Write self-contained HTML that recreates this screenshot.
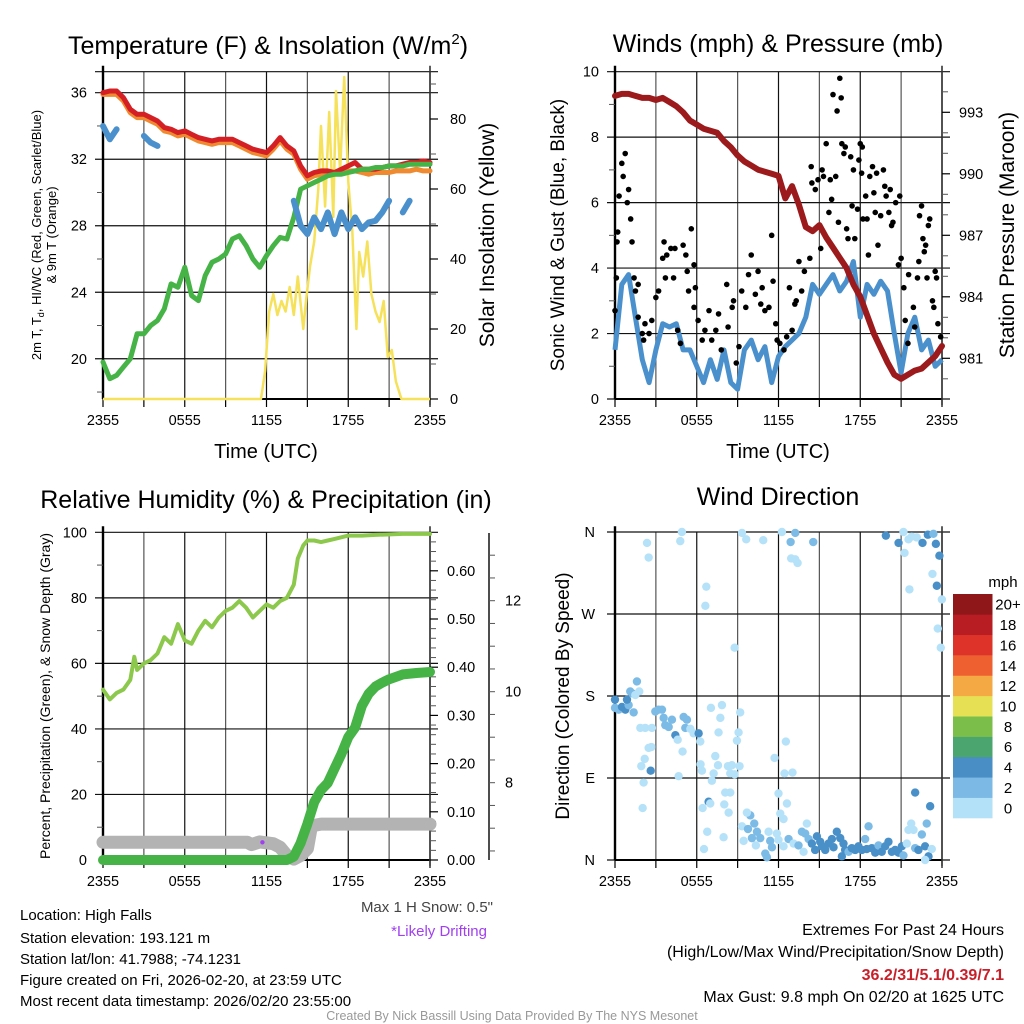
<!DOCTYPE html>
<html><head><meta charset="utf-8"><style>
html,body{margin:0;padding:0;background:#fff;}
svg{display:block;font-family:"Liberation Sans",Arial,sans-serif;}
</style></head><body>
<svg id="chart" xmlns="http://www.w3.org/2000/svg" width="1024" height="1024" viewBox="0 0 1024 1024">
<rect width="1024" height="1024" fill="#fff"/>
<g id="layer"></g>
<text x="268" y="54" font-size="25" text-anchor="middle">Temperature (F) &amp; Insolation (W/m<tspan font-size="15" dy="-10">2</tspan><tspan dy="10">)</tspan></text>
<text x="778" y="52" font-size="25" text-anchor="middle">Winds (mph) &amp; Pressure (mb)</text>
<text x="266" y="508" font-size="25" text-anchor="middle">Relative Humidity (%) &amp; Precipitation (in)</text>
<text x="778" y="505" font-size="25" text-anchor="middle">Wind Direction</text>
<text x="266" y="458" font-size="20" text-anchor="middle">Time (UTC)</text>
<text x="778" y="458" font-size="20" text-anchor="middle">Time (UTC)</text>
<text transform="translate(41,235) rotate(-90)" font-size="13" text-anchor="middle">2m T, T<tspan font-size="9" dy="3">d</tspan><tspan dy="-3">, HI/WC (Red, Green, Scarlet/Blue)</tspan></text>
<text transform="translate(56,235) rotate(-90)" font-size="13" text-anchor="middle">&amp; 9m T (Orange)</text>
<text transform="translate(494,235) rotate(-90)" font-size="21" text-anchor="middle">Solar Insolation (Yellow)</text>
<text transform="translate(564,235) rotate(-90)" font-size="19" text-anchor="middle">Sonic Wind &amp; Gust (Blue, Black)</text>
<text transform="translate(1014,235) rotate(-90)" font-size="21" text-anchor="middle">Station Pressure (Maroon)</text>
<text transform="translate(50,696) rotate(-90)" font-size="14" text-anchor="middle">Percent, Precipitation (Green), &amp; Snow Depth (Gray)</text>
<text transform="translate(569,696) rotate(-90)" font-size="19" text-anchor="middle">Direction (Colored By Speed)</text>
<text x="1003" y="587" font-size="15" text-anchor="middle">mph</text>
<text x="493" y="912" font-size="15" fill="#444" text-anchor="end">Max 1 H Snow: 0.5"</text>
<text x="487" y="936" font-size="15" fill="#a040f0" text-anchor="end">*Likely Drifting</text>
<g font-size="15">
<text x="20" y="920">Location: High Falls</text>
<text x="20" y="943">Station elevation: 193.121 m</text>
<text x="20" y="964">Station lat/lon: 41.7988; -74.1231</text>
<text x="20" y="985">Figure created on Fri, 2026-02-20, at 23:59 UTC</text>
<text x="20" y="1006">Most recent data timestamp: 2026/02/20 23:55:00</text>
</g>
<g font-size="16" text-anchor="end">
<text x="1004" y="935">Extremes For Past 24 Hours</text>
<text x="1004" y="957">(High/Low/Max Wind/Precipitation/Snow Depth)</text>
<text x="1004" y="980" fill="#c8202a" font-weight="bold">36.2/31/5.1/0.39/7.1</text>
<text x="1004" y="1002">Max Gust: 9.8 mph On 02/20 at 1625 UTC</text>
</g>
<text x="512" y="1020" font-size="12.5" fill="#999" text-anchor="middle">Created By Nick Bassill Using Data Provided By The NYS Mesonet</text>
</svg>
<script>
// ---- data (half-hour steps from 2355 UTC, 0..24 h) ----
const xTickLabels = ["2355","0555","1155","1755","2355"];
const tempRed = [36.0,36.1,36.1,35.7,35.0,34.7,34.7,34.5,34.3,33.9,33.8,33.6,33.7,33.5,33.3,33.2,33.1,33.2,33.2,33.2,33.0,32.8,32.6,32.5,32.4,32.8,33.3,32.8,32.5,31.6,31.0,31.2,31.3,31.3,31.2,31.4,31.6,31.8,31.4,31.4,31.4,31.5,31.6,31.6,31.7,31.8,31.8,31.9,31.8];
const temp9m = [35.9,35.9,35.9,35.5,34.8,34.5,34.5,34.3,34.1,33.7,33.6,33.4,33.5,33.3,33.1,33.0,32.9,33.0,33.0,33.0,32.8,32.6,32.4,32.3,32.2,32.6,33.1,32.6,32.3,31.4,30.8,31.0,31.1,31.1,31.1,31.2,31.3,31.3,31.2,31.1,31.2,31.2,31.2,31.3,31.3,31.3,31.4,31.3,31.3];
const dewGreen = [19.8,18.8,19.0,19.5,20.0,21.5,21.5,22.0,22.3,23.0,24.5,24.3,25.5,23.8,23.5,25.0,25.8,26.0,26.3,27.2,27.4,26.8,26.0,25.5,26.2,26.8,27.3,27.2,28.5,30.2,30.4,30.6,30.8,31.0,31.1,31.1,31.2,31.3,31.4,31.4,31.5,31.5,31.6,31.6,31.6,31.7,31.7,31.7,31.7];
const windChill = [34.0,33.2,33.8,null,null,null,33.4,33.0,32.8,null,32.8,null,null,null,null,null,null,null,null,null,null,null,null,30.6,null,null,null,null,29.5,28.0,27.5,28.5,27.8,28.8,27.5,28.8,27.8,28.5,27.8,28.2,28.3,28.8,29.5,null,28.8,29.5,null,null,null];
const solarHours = [0,11.6,11.9,12.2,12.5,12.8,13.1,13.4,13.7,14.0,14.3,14.7,14.9,15.2,15.5,15.8,16.0,16.3,16.6,16.9,17.1,17.4,17.7,18.0,18.3,18.6,18.8,19.1,19.4,19.7,20.0,20.3,20.6,20.9,21.2,21.5,21.9,24];
const solarVals  = [0,0,8,25,30,24,28,25,32,24,35,20,28,38,45,60,78,55,82,52,88,65,92,62,48,20,42,35,45,30,25,22,28,12,14,5,0,0];
const pressure = [993.8,993.9,993.9,993.8,993.7,993.7,993.6,993.7,993.5,993.3,993.0,992.6,992.4,992.2,992.1,992.0,991.6,991.3,990.9,990.6,990.4,990.2,990.1,990.0,989.9,988.8,989.4,988.5,987.4,987.2,987.5,986.9,986.4,985.9,985.4,984.6,984.0,983.1,982.2,981.5,980.8,980.2,980.0,980.2,980.4,980.5,980.8,981.1,981.6];
const sonicWind = [1.5,3.5,3.8,2.5,1.2,0.5,1.5,2.3,2.2,2.3,1.5,1.5,1.0,0.5,1.2,0.6,1.5,0.5,0.3,1.5,1.8,1.2,1.6,0.5,1.3,1.6,1.8,2.0,2.5,3.5,3.2,3.5,3.8,3.3,3.6,4.2,2.5,3.5,3.2,3.6,3.3,2.0,0.8,2.0,2.5,1.5,1.8,1.0,1.2];
const gustHours = [0,0.1,0.15,0.2,0.3,0.5,0.6,0.75,0.9,1.0,1.15,1.25,1.4,1.5,1.7,1.7,2.0,2.1,2.2,2.5,2.7,3.0,3.2,3.5,3.6,3.7,3.8,4.1,4.3,4.4,4.6,4.8,5.0,5.2,5.3,5.4,5.6,5.8,5.8,5.9,6.1,6.4,6.6,6.9,7.1,7.4,7.6,7.8,8.2,8.3,8.6,8.7,8.9,9.1,9.3,9.6,9.8,10.0,10.3,10.5,10.7,10.8,11.0,11.3,11.5,11.6,11.8,11.9,12.1,12.4,12.6,12.8,13.0,13.2,13.3,13.5,13.7,13.9,14.3,14.4,14.45,14.7,14.9,15.1,15.2,15.3,15.5,15.7,15.8,15.9,16.0,16.2,16.3,16.4,16.5,16.6,16.65,16.8,16.9,17.0,17.1,17.3,17.4,17.5,17.6,17.8,17.9,18.0,18.1,18.15,18.2,18.4,18.5,18.6,18.7,18.9,19.0,19.1,19.2,19.3,19.5,19.7,19.8,19.9,20.1,20.2,20.3,20.4,20.6,20.8,20.9,21.0,21.2,21.3,21.5,21.55,21.9,22.0,22.2,22.3,22.35,22.5,22.6,22.7,22.8,22.9,23.0,23.1,23.3,23.4,23.5,23.6,23.7,23.9];
const gustVals  = [2.7,3.7,4.8,5.1,6.2,7.2,6.8,7.5,6.0,6.4,5.5,4.8,3.7,3.3,3.5,2.5,2.0,1.8,2.3,2.0,2.4,3.1,3.3,4.3,4.8,3.7,4.4,4.6,3.7,4.6,2.1,1.7,4.7,4.4,3.9,3.3,5.2,4.1,2.8,3.4,2.4,1.8,2.1,2.7,1.8,2.1,2.6,1.5,3.5,2.2,2.8,3.0,1.1,1.6,3.3,2.8,3.8,4.4,3.2,3.9,2.9,3.4,2.7,2.8,5.0,3.6,2.3,1.8,1.7,1.5,1.9,3.4,2.1,2.9,3.0,4.2,3.3,3.9,4.3,7.1,6.6,6.4,6.7,4.6,7.0,6.8,7.8,5.7,6.7,6.1,9.3,6.8,8.8,5.4,9.8,9.2,7.8,7.5,7.7,5.2,4.9,7.4,5.9,7.0,4.9,5.8,7.3,7.8,6.9,7.7,5.5,6.2,5.5,4.4,6.8,7.1,6.3,5.7,6.9,4.7,5.6,7.0,6.5,6.2,5.7,6.4,5.3,5.4,6.0,4.1,6.2,4.3,3.4,2.4,1.7,3.8,2.8,2.2,3.7,4.2,5.6,5.9,4.9,4.5,4.7,3.7,5.3,5.5,3.0,2.8,3.9,3.7,2.3,1.9];
const rhHours = [0,0.5,1,1.5,2,2.3,2.5,3,3.5,4,4.5,5,5.5,6,6.5,7,7.5,8,8.5,9,9.5,10,10.5,11,11.5,12,12.5,13,13.5,14,14.3,14.7,15,15.5,16,16.5,17,18,19,20,22,24];
const rhVals  = [52,49,51,52,55,62,58,60,61,63,68,66,72,67,66,70,73,71,74,76,77,79,77,74,76,78,77,79,80,84,92,96,97.5,97.5,97,97.5,98,99,99,99.2,99.5,99.5];
const precipHours = [0,13.5,14,14.5,15,15.5,16,16.5,17,17.5,18,18.5,19,19.5,20,20.5,21,22,23,24];
const precipVals  = [0,0,0.007,0.035,0.075,0.12,0.145,0.16,0.19,0.22,0.255,0.275,0.32,0.345,0.36,0.368,0.375,0.385,0.388,0.39];
const snowHours = [0,10.6,10.9,11.5,12.5,13,13.5,14,14.5,15,15.3,16,24];
const snowVals  = [6.69,6.69,6.64,6.70,6.66,6.58,6.40,6.32,6.40,6.55,7.05,7.09,7.09];
const dirHours = [0.0,0.0,0.27,0.51,0.76,1.0,0.88,1.25,1.12,1.49,1.61,1.78,1.37,1.86,2.22,2.71,2.47,2.67,2.18,1.93,2.10,2.03,2.62,2.96,3.20,3.45,3.57,3.69,3.94,4.18,4.43,4.60,4.96,5.04,5.28,5.16,5.53,5.77,6.14,6.26,6.28,6.38,4.67,2.35,2.47,4.79,4.91,6.70,6.63,7.04,7.85,7.73,7.60,7.36,7.24,7.11,7.56,8.29,8.58,8.46,8.78,9.14,8.09,8.46,6.87,6.99,6.43,8.02,8.34,6.77,6.53,7.97,8.78,9.07,9.19,8.95,9.32,9.63,10.88,12.25,12.89,13.23,12.93,13.23,13.40,14.55,9.93,9.68,9.32,9.76,10.22,10.42,10.05,10.66,9.44,10.34,11.03,11.15,11.27,11.39,11.52,11.88,12.0,11.71,12.0,12.54,12.44,13.03,12.62,12.13,12.37,12.74,12.37,13.11,13.47,13.72,14.08,13.96,14.21,13.84,14.45,14.69,14.82,15.06,15.18,15.43,15.67,15.92,16.04,16.28,16.53,16.77,16.89,16.65,17.14,17.38,17.63,17.87,18.12,18.36,18.61,18.48,18.85,19.10,19.34,19.58,19.83,20.07,20.32,20.56,20.81,21.05,21.17,21.42,21.54,21.74,21.91,22.03,22.27,22.52,22.76,22.88,23.01,23.13,23.25,22.76,22.03,19.88,20.81,21.17,21.25,21.54,21.78,22.15,21.61,22.57,22.96,23.37,23.55,23.81,23.30,23.62,23.99,23.69,23.91];
const dirDeg = [176,167,165,168,165,170,176,183,185,181,196,185,162,145,145,145,123,124,111,103,85,57,98,163,165,165,156,148,146,154,137,132,119,157,154,145,144,139,139,130,105,98,92,348,332,350,360,300,279,167,170,156,140,114,95,87,104,103,104,95,94,103,74,74,64,62,57,61,52,31,12,25,233,140,162,131,359,352,351,360,349,359,331,330,326,349,49,52,37,34,40,31,24,24,21,16,7,3,31,21,14,29,22,112,73,130,95,96,62,51,45,23,15,18,16,31,40,29,23,9,18,11,26,20,15,11,18,23,14,31,24,18,11,4,9,13,11,15,11,23,37,12,13,8,16,9,15,20,9,11,8,15,5,18,33,40,33,13,11,28,15,40,4,59,12,0,74,356,348,360,337,352,355,354,297,348,357,358,347,334,314,301,286,254,233];
const dirSpeedClass = [2,1,1,2,2,1,2,1,1,0,1,0,1,0,0,0,0,0,0,0,0,0,2,1,1,1,1,1,1,1,2,0,0,1,1,1,0,0,2,0,0,0,0,0,0,0,0,0,0,0,0,0,0,0,0,0,0,0,0,0,0,0,0,0,2,0,0,0,0,0,0,0,0,0,0,0,0,0,0,0,1,1,0,0,0,1,1,0,0,1,1,1,1,1,0,0,1,1,0,1,1,0,0,0,0,0,0,0,0,0,0,1,0,0,1,1,0,1,1,0,2,2,2,2,2,2,2,2,2,2,2,2,2,2,1,2,2,2,2,1,1,2,2,2,1,2,2,2,2,2,2,2,1,0,0,0,0,1,2,1,2,1,2,2,0,0,2,2,2,0,0,0,0,0,0,2,2,1,2,2,0,2,0,0,0];
const colorbarLabels = ["0","2","4","6","8","10","12","14","16","18","20+"];
const colorbarColors = ["#b3e1f7","#7cb9e4","#4a8ec6","#4aa56e","#7bbf4a","#e6e055","#f5a945","#ee6030","#dd3328","#b81d24","#8f171a"];

// ---- helpers ----
const NS = "http://www.w3.org/2000/svg";
const layer = document.getElementById("layer");
function el(tag, attrs, parent){ const e=document.createElementNS(NS,tag); for(const k in attrs) e.setAttribute(k,attrs[k]); (parent||layer).appendChild(e); return e; }
function txt(x,y,s,size,anchor,parent){ const t=el("text",{x:x,y:y,"font-size":size,"text-anchor":anchor},parent); t.textContent=s; return t; }
function makeX(x0,x1){ return h => x0+(x1-x0)*h/24; }
function pathFrom(hours, vals, xf, yf){
  let d="", pen=false;
  for(let i=0;i<vals.length;i++){ const v=vals[i]; if(v===null){pen=false;continue;} d+=(pen?"L":"M")+xf(hours[i]).toFixed(1)+","+yf(v).toFixed(1); pen=true; }
  return d;
}
function halfHours(n){ const a=[]; for(let i=0;i<n;i++) a.push(i*0.5); return a; }

function frame(g, x0,x1,yTop,yBot, hGrid, xf){
  for(let h=0;h<=24;h+=3){ const x=xf(h); el("line",{x1:x,y1:yTop,x2:x,y2:yBot,stroke:(h%6===0)?"#111":"#555","stroke-width":1.2},g);
    el("line",{x1:x,y1:yBot,x2:x,y2:yBot+8,stroke:"#000","stroke-width":1.2},g); }
  hGrid.forEach(y=> el("line",{x1:x0-8,y1:y,x2:x1+8,y2:y,stroke:"#111","stroke-width":1.2},g));
  el("line",{x1:x0,y1:yTop-6,x2:x0,y2:yBot,stroke:"#000","stroke-width":2.4},g);
  el("line",{x1:x0,y1:yBot,x2:x1,y2:yBot,stroke:"#000","stroke-width":2},g);
  el("line",{x1:x1,y1:yTop-6,x2:x1,y2:yBot+6,stroke:"#333","stroke-width":1.6},g);
  xTickLabels.forEach((s,i)=>{ txt(xf(i*6), yBot+26, s, 14.5, "middle", g); });
}
function minorTicks(g, x, ys, dir){ ys.forEach(y=> el("line",{x1:x,y1:y,x2:x+dir*6,y2:y,stroke:"#555","stroke-width":1},g)); }

// ================= PANEL 1 =================
(function(){
  const g=el("g",{});  
  const x0=103,x1=430,yTop=71.7,yBot=399;
  const xf=makeX(x0,x1);
  const yT=v=>92.7+(36-v)*16.63, yS=v=>399-v*3.5;
  const grid=[yTop]; [20,24,28,32,36].forEach(v=>grid.push(yT(v)));
  frame(g,x0,x1,yTop,yBot,grid,xf);
  [20,24,28,32,36].forEach(v=> txt(x0-16,yT(v)+5,String(v),14.5,"end",g));
  minorTicks(g,x0,[18,22,26,30,34].map(yT),-1);
  [0,20,40,60,80].forEach(v=>{ el("line",{x1:x1,y1:yS(v),x2:x1+8,y2:yS(v),stroke:"#000","stroke-width":1.2},g); txt(x1+20,yS(v)+5,String(v),14.5,"start",g); });
  minorTicks(g,x1,[10,30,50,70,90].map(yS),1);
  const hh=halfHours(49);
  const s=el("path",{d:pathFrom(solarHours,solarVals,xf,yS),fill:"none",stroke:"#f5e15a","stroke-width":2.5,"stroke-linejoin":"round"},g);
   
  const o=el("path",{d:pathFrom(hh,temp9m,xf,yT),fill:"none",stroke:"#f08a30","stroke-width":5,"stroke-linejoin":"round","stroke-linecap":"round"},g);
   
  const r=el("path",{d:pathFrom(hh,tempRed,xf,yT),fill:"none",stroke:"#d42024","stroke-width":5,"stroke-linejoin":"round","stroke-linecap":"round"},g);
   
  const gr=el("path",{d:pathFrom(hh,dewGreen,xf,yT),fill:"none",stroke:"#46b346","stroke-width":5,"stroke-linejoin":"round","stroke-linecap":"round"},g);
   
  const b=el("path",{d:pathFrom(hh,windChill,xf,yT),fill:"none",stroke:"#4a90cc","stroke-width":6,"stroke-linejoin":"round","stroke-linecap":"round"},g);
   
})();

// ================= PANEL 2 =================
(function(){
  const g=el("g",{});  
  const x0=615,x1=942,yTop=71.7,yBot=399;
  const xf=makeX(x0,x1);
  const yW=v=>399-v*32.73, yP=p=>112.3+(993-p)*20.5;
  const grid=[]; [0,2,4,6,8,10].forEach(v=>grid.push(yW(v)));
  frame(g,x0,x1,yTop,yBot,grid,xf);
  [0,2,4,6,8,10].forEach(v=> txt(x0-16,yW(v)+5,String(v),14.5,"end",g));
  minorTicks(g,x0,[1,3,5,7,9].map(yW),-1);
  [981,984,987,990,993].forEach(v=>{ el("line",{x1:x1,y1:yP(v),x2:x1+8,y2:yP(v),stroke:"#000","stroke-width":1.2},g); txt(x1+17,yP(v)+5,String(v),14.5,"start",g); });
  minorTicks(g,x1,[980,982,983,985,986,988,989,991,992,994].map(yP),1);
  const hh=halfHours(49);
  const w=el("path",{d:pathFrom(hh,sonicWind,xf,yW),fill:"none",stroke:"#4a90cc","stroke-width":5,"stroke-linejoin":"round"},g);
   
  const p=el("path",{d:pathFrom(hh,pressure,xf,yP),fill:"none",stroke:"#9c1a1c","stroke-width":6,"stroke-linejoin":"round","stroke-linecap":"round"},g);
   
  for(let i=0;i<gustHours.length;i++){
    const c=el("circle",{cx:xf(gustHours[i]),cy:yW(gustVals[i]),r:2.8,fill:"#000"},g);
     
  }
})();

// ================= PANEL 3 =================
(function(){
  const g=el("g",{});  
  const x0=103,x1=430,yTop=532.3,yBot=860;
  const xf=makeX(x0,x1);
  const yR=v=>860-v*3.277, yPr=v=>860-v*482, ySn=v=>782.7+(8-v)*45.5;
  const grid=[]; [20,40,60,80,100].forEach(v=>grid.push(yR(v)));
  frame(g,x0,x1,yTop,yBot,grid,xf);
  [0,20,40,60,80,100].forEach(v=> txt(x0-16,yR(v)+5,String(v),14.5,"end",g));
  minorTicks(g,x0,[10,30,50,70,90].map(yR),-1);
  [0,0.1,0.2,0.3,0.4,0.5,0.6].forEach(v=>{ el("line",{x1:x1,y1:yPr(v),x2:x1+8,y2:yPr(v),stroke:"#000","stroke-width":1.2},g); txt(x1+17,yPr(v)+5,v.toFixed(2),14.5,"start",g); });
  const mt=[]; for(let k=1;k<34;k++){ if(k%5) mt.push(yPr(k*0.02)); } minorTicks(g,x1,mt,1);
  el("line",{x1:489,y1:533,x2:489,y2:860,stroke:"#222","stroke-width":1.6},g);
  const st=[]; for(let k=0;k<14;k++) st.push(ySn(6.5+k*0.5)); minorTicks(g,489,st.filter(y=>y>534&&y<858),1);
  [8,10,12].forEach(v=> txt(505,ySn(v)+5,String(v),14.5,"start",g));
  const sn=el("path",{d:pathFrom(snowHours,snowVals,xf,ySn),fill:"none",stroke:"#b3b3b3","stroke-width":13,"stroke-linejoin":"round","stroke-linecap":"round"},g);
   
  const dot=el("circle",{cx:xf(11.7),cy:ySn(6.69),r:2.2,fill:"#a040f0"},g);
   
  const pr=el("path",{d:pathFrom(precipHours,precipVals,xf,yPr),fill:"none",stroke:"#46b346","stroke-width":10,"stroke-linejoin":"round","stroke-linecap":"round"},g);
   
  const rh=el("path",{d:pathFrom(rhHours,rhVals,xf,yR),fill:"none",stroke:"#8cc84b","stroke-width":4,"stroke-linejoin":"round","stroke-linecap":"round"},g);
   
})();

// ================= PANEL 4 =================
(function(){
  const g=el("g",{});  
  const x0=615,x1=942,yTop=532.3,yBot=860;
  const xf=makeX(x0,x1);
  const yD=d=>860-d*0.9111;
  const grid=[0,90,180,270,360].map(yD);
  frame(g,x0,x1,yTop,yBot,grid,xf);
  ["N","E","S","W","N"].forEach((s,i)=> txt(x0-20,yD(i*90)+5,s,14.5,"end",g));
  const cols=["#b5e2f8","#7cbbe6","#4a90c8"];
  const n=Math.min(dirHours.length,dirDeg.length,dirSpeedClass.length);
  for(let i=0;i<n;i++){
    const h=Math.max(0,Math.min(24,dirHours[i])), d=Math.max(0,Math.min(360,dirDeg[i]));
    const c=el("circle",{cx:xf(h),cy:yD(d),r:4.2,fill:cols[dirSpeedClass[i]]},g);
     
  }
  const cb=el("g",{});  
  const bh=(818-594)/colorbarColors.length;
  colorbarColors.forEach((c,i)=>{ const y=818-(i+1)*bh;
    const r=el("rect",{x:953,y:y,width:39.5,height:bh+0.3,fill:c},cb);
     
    txt(1008,y+bh/2+5.5,colorbarLabels[i],15,"middle",cb); });
})();
</script>
</body></html>
